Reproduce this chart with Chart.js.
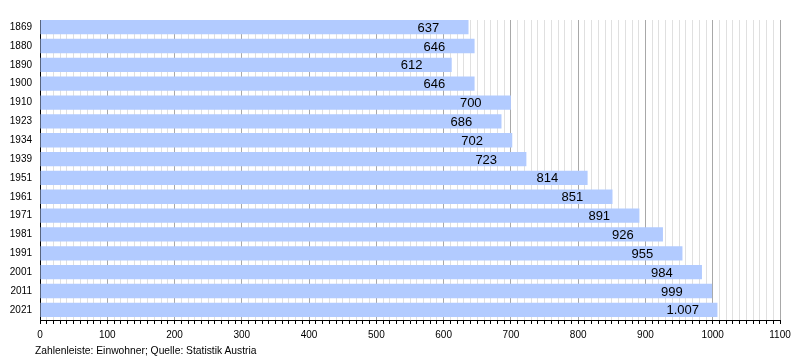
<!DOCTYPE html>
<html>
<head>
<meta charset="utf-8">
<script src="https://cdn.jsdelivr.net/npm/chart.js@4"></script>
<style>
  body { margin: 0; background: #fff; }
  #wrap { position: relative; width: 800px; height: 360px; }
  #note {
    position: absolute; left: 35px; top: 345px;
    font: 10.3px "Liberation Sans", Arial, sans-serif; color: #000;
  }
</style>
</head>
<body>
<div id="wrap">
  <canvas id="chart" width="800" height="360"></canvas>
  <div id="note">Zahlenleiste: Einwohner; Quelle: Statistik Austria</div>
</div>
<script>
// Einwohner je Volkszählung
let years = ['1869', '1880', '1890', '1900', '1910', '1923', '1934', '1939',
             '1951', '1961', '1971', '1981', '1991', '2001', '2011', '2021'];
let population = [637, 646, 612, 646, 700, 686, 702, 723,
                  814, 851, 891, 926, 955, 984, 999, 1007];
let axisMax = 1100;

const FONT = '"Liberation Sans", Arial, sans-serif';
const BAR_PCT = 0.76;

// balken liegen auf einer linearen achse, oben bündig, unten kleiner spalt zur achse
let points = population.map(function(v, i) { return { x: v, y: i }; });

// zahl im balken, links ausgerichtet ein stück vor dem balkenende
let barLabels = {
    id: 'barLabels',
    afterDatasetsDraw(chart) {
        let ctx = chart.ctx;
        let meta = chart.getDatasetMeta(0);
        ctx.save();
        ctx.font = '13px ' + FONT;
        ctx.fillStyle = '#000';
        ctx.textAlign = 'left';
        ctx.textBaseline = 'middle';
        meta.data.forEach(function(bar, i) {
            let txt = population[i].toLocaleString('de-DE');
            ctx.fillText(txt, bar.x - 51, bar.y + 1);
        });
        ctx.restore();
    }
};

new Chart(document.getElementById('chart'), {
    type: 'bar',
    data: {
        datasets: [{
            data: points,
            backgroundColor: '#b2cbff',
            borderWidth: 0,
            barPercentage: BAR_PCT,
            categoryPercentage: 1
        }]
    },
    options: {
        indexAxis: 'y',
        responsive: false,
        animation: false,
        devicePixelRatio: 1,
        layout: { padding: { top: 20, right: 20, bottom: 20, left: 0 } },
        plugins: {
            legend: { display: false },
            tooltip: { enabled: false }
        },
        scales: {
            y: {
                type: 'linear',
                reverse: true,
                offset: false,
                min: -BAR_PCT / 2,
                max: years.length - 1 + BAR_PCT / 2 + 0.16,
                afterFit: function(s) { s.width = 40; },
                afterBuildTicks: function(s) {
                    s.ticks = years.map(function(y, i) { return { value: i }; });
                },
                grid: { display: false, drawTicks: false },
                border: { display: true, color: '#000', width: 1 },
                ticks: {
                    autoSkip: false,
                    color: '#000',
                    font: { size: 10, family: FONT },
                    padding: 8,
                    callback: function(v) { return years[v]; }
                }
            },
            x: {
                min: 0,
                max: axisMax,
                afterFit: function(s) { s.height = 20; },
                border: { display: true, color: '#000', width: 1 },
                grid: {
                    color: function(c) {
                        if (!c.tick) return 'rgba(0,0,0,0)';
                        return c.tick.value % 100 === 0 ? '#a8a8a8' : '#e0e0e0';
                    },
                    tickColor: '#000',
                    tickLength: 4
                },
                ticks: {
                    stepSize: 10,
                    autoSkip: false,
                    maxRotation: 0,
                    padding: 5,
                    color: '#000',
                    font: { size: 10, family: FONT },
                    callback: function(v) { return v % 100 === 0 ? v : ''; }
                }
            }
        }
    },
    plugins: [barLabels]
});
</script>
</body>
</html>
